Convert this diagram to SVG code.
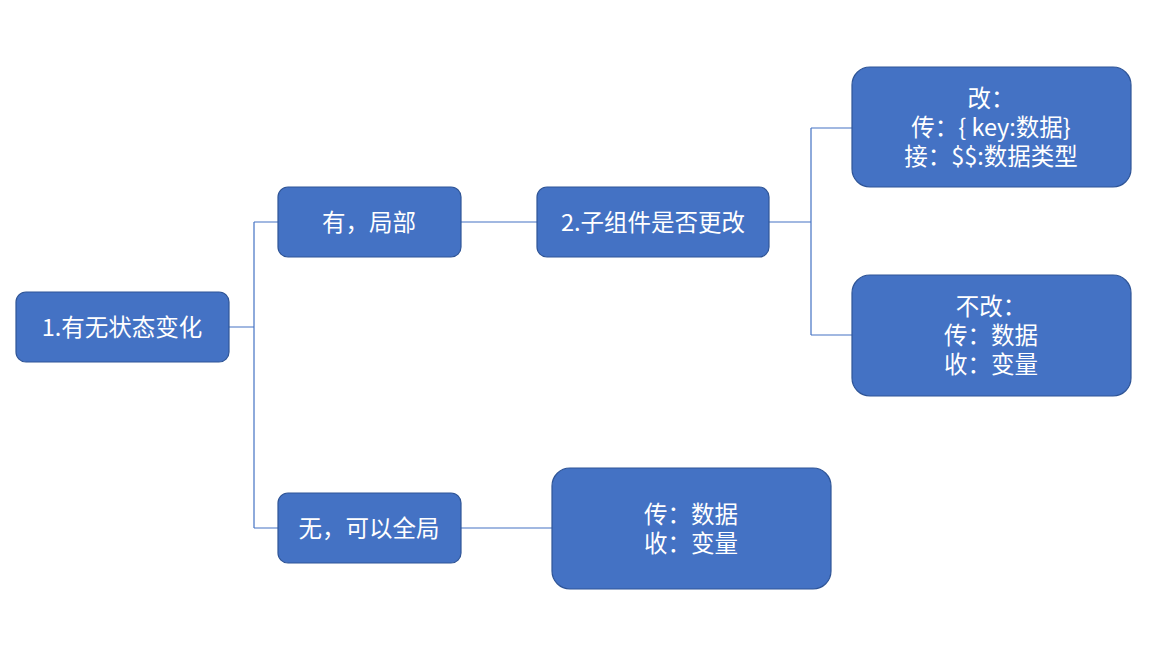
<svg xmlns="http://www.w3.org/2000/svg" width="1164" height="648" viewBox="0 0 1164 648">
<style>
.n{fill:#4472C4;stroke:#2F5597;stroke-width:1.2}
.t{fill:#fff;font-family:"Microsoft YaHei","Noto Sans CJK SC",sans-serif;font-size:23.5px;text-anchor:middle;dominant-baseline:central}
.c{fill:none;stroke:#4472C4;stroke-width:1.2}
</style>
<rect width="1164" height="648" fill="#fff"/>
<g id="connectors">
<path class="c" d="M229 327H254M254 222V528M254 222H278M254 528H278"/>
<path class="c" d="M461 222H537"/>
<path class="c" d="M769 222H811M811 128V335M811 128H852M811 335H852"/>
<path class="c" d="M461 528H552"/>
</g>
<g id="n1"><rect class="n" x="16" y="292" width="213" height="70" rx="10"/><text class="t" x="122" y="326">1.有无状态变化</text></g>
<g id="n2"><rect class="n" x="278" y="187" width="183" height="70" rx="10"/><text class="t" x="369" y="221">有，局部</text></g>
<g id="n3"><rect class="n" x="537" y="187" width="232" height="70" rx="10"/><text class="t" x="653" y="221">2.子组件是否更改</text></g>
<g id="n4"><rect class="n" x="852" y="67" width="279" height="120" rx="18"/>
<text class="t"><tspan x="991" y="97">改：</tspan><tspan x="991" y="126">传：{ key:数据}</tspan><tspan x="991" y="155">接：$$:数据类型</tspan></text></g>
<g id="n5"><rect class="n" x="852" y="275" width="279" height="121" rx="18"/>
<text class="t"><tspan x="991" y="305">不改：</tspan><tspan x="991" y="334">传：数据</tspan><tspan x="991" y="363">收：变量</tspan></text></g>
<g id="n6"><rect class="n" x="278" y="493" width="183" height="70" rx="10"/><text class="t" x="369" y="527">无，可以全局</text></g>
<g id="n7"><rect class="n" x="552" y="468" width="279" height="121" rx="18"/>
<text class="t"><tspan x="691" y="513">传：数据</tspan><tspan x="691" y="542">收：变量</tspan></text></g>
</svg>
